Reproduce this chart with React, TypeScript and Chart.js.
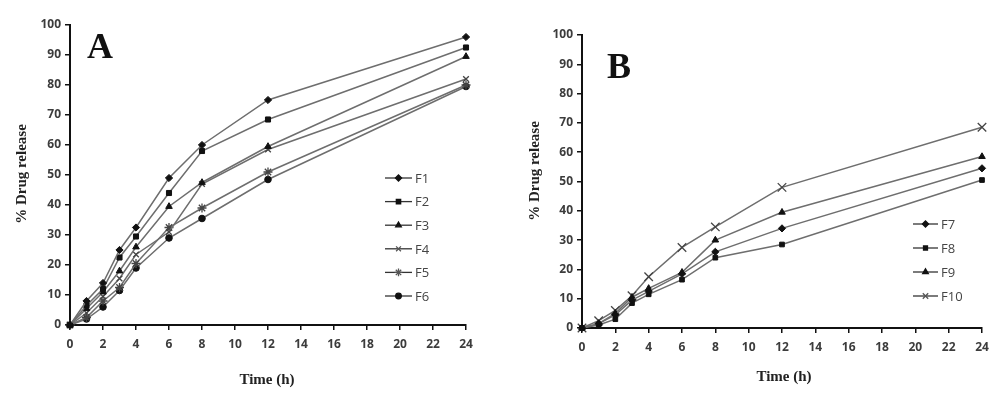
import React, { useEffect, useRef } from "react";
import { Chart, registerables } from "chart.js";
import { drawPoint } from "chart.js/helpers";

Chart.register(...registerables);

// ---------- data ----------
const timesA = [0, 1, 2, 3, 4, 6, 8, 12, 24];
const F1 = [0, 8, 14, 25, 32.5, 49, 60, 75, 96];
const F2 = [0, 6.5, 12, 22.5, 29.5, 44, 58, 68.5, 92.5];
const F3 = [0, 5.5, 11, 18, 26, 39.5, 47.5, 59.5, 89.5];
const F4 = [0, 4, 9.5, 15.5, 23.5, 31, 47, 58.5, 82];
const F5 = [0, 2.5, 8, 12.5, 20.5, 32.5, 39, 51, 80];
const F6 = [0, 2, 6, 11.5, 19, 29, 35.5, 48.5, 79.5];

const timesB = [0, 1, 2, 3, 4, 6, 8, 12, 24];
const F7 = [0, 1.5, 4.5, 9.5, 12.5, 18.5, 26, 34, 54.5];
const F8 = [0, 1, 3, 8.5, 11.5, 16.5, 24, 28.5, 50.5];
const F9 = [0, 1.5, 5, 10.5, 13.5, 19, 30, 39.5, 58.5];
const F10 = [0, 2.5, 6, 11, 17.5, 27.5, 34.5, 48, 68.5];

const xTicks = [0, 2, 4, 6, 8, 10, 12, 14, 16, 18, 20, 22, 24];
const yTicks = [0, 10, 20, 30, 40, 50, 60, 70, 80, 90, 100];

const seriesA = [
  { label: "F1", data: F1, style: "rectRot", r: 3.6 },
  { label: "F2", data: F2, style: "rect", r: 3.6 },
  { label: "F3", data: F3, style: "triangle", r: 3.8 },
  { label: "F4", data: F4, style: "crossRot", r: 4 },
  { label: "F5", data: F5, style: "star", r: 4.5 },
  { label: "F6", data: F6, style: "circle", r: 3.3 },
];
const seriesB = [
  { label: "F7", data: F7, style: "rectRot", r: 3.6 },
  { label: "F8", data: F8, style: "rect", r: 3.3 },
  { label: "F9", data: F9, style: "triangle", r: 3.8 },
  { label: "F10", data: F10, style: "crossRot", r: 6 },
];

const LINE = "#6e6e6e";
const MARK = "#111";
const TICKCOL = "#3c3c3c";

type PanelCfg = {
  times: number[];
  series: { label: string; data: number[]; style: string; r: number }[];
  letter: string;
  letterX: number;
  letterY: number;
  padLeft: number;
  yAxisWidth: number;
  padRight: number;
  padTop: number;
  xAxisHeight: number;
  xTitleX: number;
  xTitleY: number;
  yTitleX: number;
  yTitleY: number;
  legendTop: number;
  legendStep: number;
  legendX1: number;
  legendX2: number;
  legendTextX: number;
};

function makeOverlay(cfg: PanelCfg) {
  return {
    id: "overlay",
    afterDraw(chart: any) {
      const ctx = chart.ctx as CanvasRenderingContext2D;
      ctx.save();
      // panel letter
      ctx.fillStyle = "#111";
      ctx.font = "bold 36px 'Liberation Serif'";
      ctx.textAlign = "left";
      ctx.textBaseline = "alphabetic";
      ctx.fillText(cfg.letter, cfg.letterX, cfg.letterY);
      // x title
      ctx.font = "bold 15px 'Liberation Serif'";
      ctx.textAlign = "center";
      ctx.textBaseline = "middle";
      ctx.fillStyle = "#222";
      ctx.fillText("Time (h)", cfg.xTitleX, cfg.xTitleY);
      // y title
      ctx.save();
      ctx.translate(cfg.yTitleX, cfg.yTitleY);
      ctx.rotate(-Math.PI / 2);
      ctx.fillText("% Drug release", 0, 0);
      ctx.restore();
      // legend
      cfg.series.forEach((s, i) => {
        const y = cfg.legendTop + i * cfg.legendStep;
        ctx.strokeStyle = "#333";
        ctx.lineWidth = 1.3;
        ctx.beginPath();
        ctx.moveTo(cfg.legendX1, y);
        ctx.lineTo(cfg.legendX2, y);
        ctx.stroke();
        ctx.fillStyle = MARK;
        ctx.strokeStyle = s.style === "crossRot" || s.style === "star" ? "#555" : MARK;
        drawPoint(
          ctx,
          {
            pointStyle: s.style as any,
            radius: Math.min(s.r, 4.5) * 0.85,
            rotation: 0,
            borderWidth: 1,
          } as any,
          (cfg.legendX1 + cfg.legendX2) / 2,
          y
        );
        ctx.fillStyle = "#444";
        ctx.font = "13px 'Open Sans'";
        ctx.textAlign = "left";
        ctx.textBaseline = "middle";
        ctx.fillText(s.label, cfg.legendTextX, y + 1);
      });
      ctx.restore();
    },
  };
}

function Panel({ cfg, left }: { cfg: PanelCfg; left: number }) {
  const ref = useRef<HTMLCanvasElement | null>(null);
  useEffect(() => {
    if (!ref.current) return;
    const tickFont = { family: "'Open Sans'", weight: "bold" as const, size: 12 };
    const chart = new Chart(ref.current, {
      type: "line",
      data: {
        datasets: cfg.series.map((s) => ({
          label: s.label,
          data: cfg.times.map((t, i) => ({ x: t, y: s.data[i] })),
          borderColor: LINE,
          borderWidth: 1.5,
          pointStyle: s.style as any,
          pointRadius: s.r,
          pointBackgroundColor: MARK,
          pointBorderColor: s.style === "crossRot" || s.style === "star" ? "#444" : MARK,
          pointBorderWidth: s.style === "crossRot" || s.style === "star" ? 1.3 : 1,
          tension: 0,
          clip: false as any,
        })),
      },
      options: {
        animation: false,
        responsive: false,
        maintainAspectRatio: false,
        layout: {
          autoPadding: false,
          padding: { left: cfg.padLeft, right: cfg.padRight, top: cfg.padTop, bottom: 0 },
        } as any,
        plugins: {
          legend: { display: false },
          tooltip: { enabled: false },
        },
        scales: {
          x: {
            type: "linear",
            min: 0,
            max: 24,
            afterFit: (s: any) => {
              s.height = cfg.xAxisHeight;
            },
            afterBuildTicks: (s: any) => {
              s.ticks = xTicks.map((v) => ({ value: v }));
            },
            ticks: { font: tickFont, color: TICKCOL, padding: 7, maxRotation: 0, autoSkip: false },
            grid: { drawOnChartArea: false, drawTicks: true, tickLength: 5, color: "#111", lineWidth: 1.5 },
            border: { display: true, color: "#111", width: 2 },
          },
          y: {
            type: "linear",
            min: 0,
            max: 100,
            afterFit: (s: any) => {
              s.width = cfg.yAxisWidth;
            },
            afterBuildTicks: (s: any) => {
              s.ticks = yTicks.map((v) => ({ value: v }));
            },
            ticks: { font: tickFont, color: TICKCOL, padding: 4, autoSkip: false },
            grid: { drawOnChartArea: false, drawTicks: true, tickLength: 5, color: "#111", lineWidth: 1.5 },
            border: { display: true, color: "#111", width: 2 },
          },
        },
      },
      plugins: [makeOverlay(cfg)],
    });
    return () => chart.destroy();
  }, [cfg]);
  return (
    <canvas
      ref={ref}
      width={500}
      height={398}
      style={{ position: "absolute", left, top: 0, width: 500, height: 398 }}
    />
  );
}

const cfgA: PanelCfg = {
  times: timesA,
  series: seriesA,
  letter: "A",
  letterX: 87,
  letterY: 58,
  padLeft: 0,
  yAxisWidth: 70,
  padRight: 34,
  padTop: 25,
  xAxisHeight: 73,
  xTitleX: 267,
  xTitleY: 380,
  yTitleX: 22,
  yTitleY: 174,
  legendTop: 178,
  legendStep: 23.6,
  legendX1: 385,
  legendX2: 412,
  legendTextX: 415,
};

const cfgB: PanelCfg = {
  times: timesB,
  series: seriesB,
  letter: "B",
  letterX: 107,
  letterY: 78,
  padLeft: 0,
  yAxisWidth: 82,
  padRight: 18,
  padTop: 35,
  xAxisHeight: 70,
  xTitleX: 284,
  xTitleY: 377,
  yTitleX: 35,
  yTitleY: 171,
  legendTop: 224,
  legendStep: 24,
  legendX1: 413,
  legendX2: 438,
  legendTextX: 441,
};

export default function App() {
  return (
    <div
      style={{
        position: "fixed",
        left: 0,
        top: 0,
        width: 1000,
        height: 398,
        background: "#fff",
        overflow: "hidden",
      }}
    >
      <Panel cfg={cfgA} left={0} />
      <Panel cfg={cfgB} left={500} />
    </div>
  );
}
